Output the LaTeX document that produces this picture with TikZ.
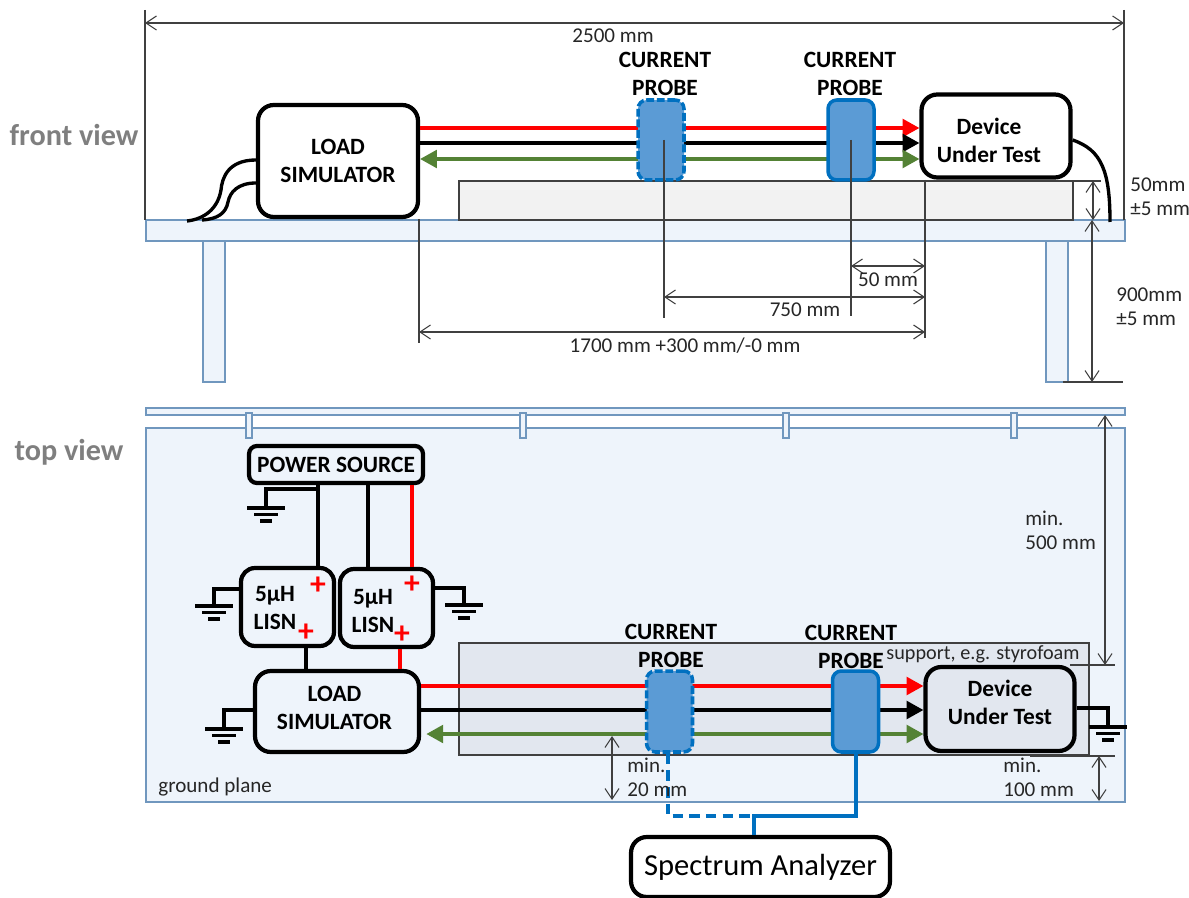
\documentclass[tikz,border=0pt]{standalone}
\usepackage{fontspec}
\setmainfont{Carlito}
\usetikzlibrary{arrows.meta,calc}
\definecolor{planefill}{RGB}{238,244,251}
\definecolor{planeline}{RGB}{112,151,190}
\definecolor{probefill}{RGB}{91,155,213}
\definecolor{probeline}{RGB}{0,112,192}
\definecolor{wiregreen}{RGB}{84,130,53}
\definecolor{viewgray}{RGB}{127,127,127}
\definecolor{supportfill}{RGB}{226,231,239}

\begin{document}
\begin{tikzpicture}[x=0.02cm,y=-0.02cm,>=Stealth]
    \tikzset{plane/.style={draw=planeline,fill=planefill,line width=0.7pt}}
    \tikzset{supportbox/.style={draw=black!75,line width=0.7pt}}
    \tikzset{devbox/.style={draw,line width=2.4pt,rounded corners=9pt,inner sep=0pt,align=center,font=\bfseries\fontsize{13.3}{16}\selectfont}}
    \tikzset{lisnbox/.style={devbox,minimum width=1.86cm,minimum height=1.56cm,rounded corners=8pt}}
    \tikzset{probebox/.style={draw=probeline,fill=probefill,line width=2pt,rounded corners=5pt,minimum width=0.92cm,inner sep=0pt}}
    \tikzset{boxtext/.style={inner sep=0pt,align=center,font=\bfseries\fontsize{13.3}{16}\selectfont}}
    \tikzset{dimtext/.style={inner sep=0pt,align=left,text=black!85,font=\fontsize{12}{13.6}\selectfont}}
    \tikzset{viewtext/.style={inner sep=0pt,text=viewgray,font=\bfseries\fontsize{17.2}{20}\selectfont}}
    \tikzset{wire/.style={line width=1.9pt}}
    \tikzset{redwire/.style={wire,red,-{Triangle[length=9.5pt,width=10pt]}}}
    \tikzset{blackwire/.style={wire,black,-{Triangle[length=9.5pt,width=10pt]}}}
    \tikzset{greenwire/.style={wire,wiregreen,{Triangle[length=9.5pt,width=10pt]}-{Triangle[length=9.5pt,width=10pt]}}}
    \tikzset{extline/.style={black!75,line width=0.6pt}}
    \tikzset{dimline/.style={black!75,line width=0.6pt,{Straight Barb[length=6pt,width=8pt]}-{Straight Barb[length=6pt,width=8pt]}}}
    \tikzset{bluewire/.style={probeline,line width=2pt}}
    \tikzset{pics/gndsym/.style={code={
      \draw[line width=2.1pt] (-19,0) -- (19,0);
      \draw[line width=2.1pt] (-12,6.5) -- (12,6.5);
      \draw[line width=2.1pt] (-6,13) -- (6,13);
    }}}

    \useasboundingbox (0,0) rectangle (1189,898);

    % Front view
    \node[viewtext] (frontview) at (74,135) {front view};
    \draw[plane] (146,220) rectangle (1125,241);
    \draw[plane] (203,241) rectangle (225,382);
    \draw[plane] (1046,241) rectangle (1068,382);
    \draw[supportbox,fill=black!5] (459,181) rectangle (1073,220);

    \node[devbox,fill=white,minimum width=3.2cm,minimum height=2.24cm] (loadf) at (338,161) {LOAD\\SIMULATOR};
    \node[devbox,fill=white,minimum width=2.98cm,minimum height=1.66cm] (dutf) at (996,136) {};
    \node[boxtext] (dutftext) at (989,140.5) {Device\\Under Test};

    \draw[redwire] (loadf.east |- 0,128) -- (dutf.west |- 0,128);
    \draw[blackwire] (loadf.east |- 0,143) -- (dutf.west |- 0,143);
    \draw[greenwire] (loadf.east |- 0,159) -- (dutf.west |- 0,159);

    \node[probebox,dashed,dash pattern=on 4.5pt off 1.5pt,minimum height=1.6cm] (probefa) at (661,140) {};
    \node[probebox,minimum height=1.6cm] (probefb) at (851,140) {};
    \node[boxtext] (probefatext) at (665,74) {CURRENT\\PROBE};
    \node[boxtext] (probefbtext) at (850,74) {CURRENT\\PROBE};

    \draw[wire] (loadf.west |- 0,160) .. controls (228,160) and (222,178) .. (221,190) .. controls (218,208) and (205,219) .. (187,221);
    \draw[wire] (loadf.west |- 0,183) .. controls (238,183) and (230,192) .. (228,202) .. controls (226,213) and (218,219) .. (202,220);
    \draw[wire] (dutf.east |- 0,140) .. controls (1102,150) and (1110,172) .. (1110,222);

    % Front view dimensions
    \coordinate (dimtl) at (145,10);
    \coordinate (dimtr) at (1124,10);
    \coordinate (extload) at (419,343);
    \coordinate (extdut) at (925,338);
    \coordinate (extpa) at (664,318);
    \coordinate (extpb) at (851,316);
    \draw[extline] (dimtl) -- (dimtl |- 0,220);
    \draw[extline] (dimtr) -- (dimtr |- 0,220);
    \draw[dimline] (dimtl |- 0,23) -- (dimtr |- 0,23);
    \node[dimtext] (dimall) at (613,36) {2500 mm};
    \draw[extline] (extload |- loadf.south) -- (extload);
    \draw[extline] (dutf.south west -| extdut) -- (extdut);
    \draw[extline] (probefa.center -| extpa) -- (extpa);
    \draw[extline] (probefb.center) -- (extpb);
    \draw[dimline] (extpb |- 0,266) -- (extdut |- 0,266);
    \node[dimtext] (dimfifty) at (888,280) {50 mm};
    \draw[dimline] (extpa |- 0,297) -- (extdut |- 0,297);
    \node[dimtext] (dimseven) at (805,310) {750 mm};
    \draw[dimline] (extload |- 0,332) -- (extdut |- 0,332);
    \node[dimtext] (dimload) at (685,346) {1700 mm +300 mm/-0 mm};
    \draw[extline] (1073,181) -- (1101,181);
    \draw[dimline] (1093,181) -- (1093,220);
    \node[dimtext,anchor=west] (dimheight) at (1130,197) {50mm\\±5 mm};
    \draw[dimline] (1092,220) -- (1092,382);
    \draw[extline,line width=0.9pt] (1063,382) -- (1123,382);
    \node[dimtext,anchor=west] (dimtable) at (1116,307) {900mm\\±5 mm};

    % Top view
    \node[viewtext] (topview) at (69,452) {top view};
    \draw[plane] (146,428) rectangle (1125,802);
    \draw[plane] (146,408) rectangle (1125,415);
    \foreach \xs in {246,520,783,1011}
      \draw[plane] (\xs,413) rectangle ++(6,25);
    \node[dimtext,anchor=west] (groundtext) at (158,787) {ground plane};
    \draw[supportbox,fill=supportfill] (459,643) rectangle (1089,755);

    \node[devbox,rounded corners=4.5pt,minimum width=3.48cm,minimum height=0.74cm] (power) at (336,464.5) {POWER SOURCE};
    \node[lisnbox] (lisna) at (287.5,607) {};
    \node[lisnbox] (lisnb) at (386.5,608) {};
    \node[boxtext] (lisnatext) at (275,608) {5µH\\LISN};
    \node[boxtext] (lisnbtext) at (373,611) {5µH\\LISN};
    \node[devbox,minimum width=3.28cm,minimum height=1.62cm] (loadt) at (337,711.5) {};
    \node[boxtext] (loadttext) at (334.5,708) {LOAD\\SIMULATOR};
    \node[devbox,fill=supportfill,minimum width=2.98cm,minimum height=1.68cm] (dutt) at (1000,709) {};
    \node[boxtext] (dutttext) at (1000,702.5) {Device\\Under Test};

    \draw[wire] (318,0 |- power.south) -- (318,0 |- lisna.north);
    \draw[wire] (368,0 |- power.south) -- (368,0 |- lisnb.north);
    \draw[wire,red] (412,0 |- power.south) -- (412,0 |- lisnb.north);
    \draw[wire] (306,0 |- lisna.south) -- (306,0 |- loadt.north);
    \draw[wire,red] (400,0 |- lisnb.south) -- (400,0 |- loadt.north);
    \foreach \xp/\yp/\nm in {318/586/a,306/633/b,412/585/c,402/635/d}
      \node[inner sep=0pt,text=red,font=\bfseries\fontsize{18}{18}\selectfont] (plus\nm) at (\xp,\yp) {+};

    % Ground symbols
    \coordinate (gnda) at (266,508);
    \coordinate (gndb) at (214,606);
    \coordinate (gndc) at (464,605);
    \coordinate (gndd) at (224,729);
    \coordinate (gnde) at (1108,727);
    \draw[wire] (318,489) -| (gnda);
    \draw[wire] (lisna.west |- 0,589) -| (gndb);
    \draw[wire] (lisnb.east |- 0,588) -| (gndc);
    \draw[wire] (loadt.west |- 0,710) -| (gndd);
    \draw[wire] (dutt.east |- 0,708) -| (gnde);
    \foreach \gn in {gnda,gndb,gndc,gndd,gnde}
      \pic at (\gn) {gndsym};

    \draw[redwire] (loadt.east |- 0,686) -- (dutt.west |- 0,686);
    \draw[blackwire] (loadt.east |- 0,710) -- (dutt.west |- 0,710);
    \draw[greenwire,shorten <=3pt] (loadt.east |- 0,734) -- (dutt.west |- 0,734);

    \node[probebox,dashed,dash pattern=on 4.5pt off 1.5pt,minimum height=1.62cm] (probeta) at (669.5,711.5) {};
    \node[probebox,minimum height=1.62cm] (probetb) at (855.5,711.5) {};
    \node[boxtext] (probetatext) at (671,645.5) {CURRENT\\PROBE};
    \node[boxtext] (probetbtext) at (851,646.5) {CURRENT\\PROBE};
    \node[dimtext,font=\fontsize{11.5}{13.6}\selectfont] (supporttext) at (983,654) {support, e.g. styrofoam};

    % Spectrum analyzer
    \node[devbox,fill=white,font=\fontsize{17.4}{20}\selectfont,minimum width=5.18cm,minimum height=1.2cm] (analyzer) at (760.5,867) {Spectrum Analyzer};
    \coordinate (bluejoin) at (754,816);
    \draw[bluewire,dashed,dash pattern=on 6pt off 3.5pt] (668,0 |- probeta.south) |- (bluejoin);
    \draw[bluewire] (856,0 |- probetb.south) |- (bluejoin) -- (bluejoin |- analyzer.north);

    % Top view dimensions
    \draw[extline] (1070,665) -- (1115,665);
    \draw[dimline] (1105,415) -- (1105,665);
    \node[dimtext,anchor=west] (dimfivehun) at (1025,530.5) {min.\\500 mm};
    \draw[extline] (1030,756) -- (1115,756);
    \draw[dimline] (1099,756) -- (1099,801);
    \node[dimtext,anchor=west] (dimhundred) at (1003,777) {min.\\100 mm};
    \draw[dimline] (612,736) -- (612,800);
    \node[dimtext,anchor=west] (dimtwenty) at (627,777) {min.\\20 mm};
\end{tikzpicture}
\end{document}
